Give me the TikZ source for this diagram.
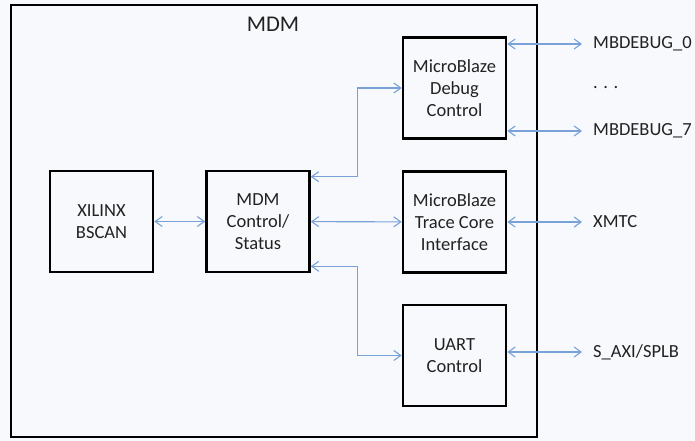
\documentclass[tikz,border=0pt]{standalone}
\usepackage{fontspec}
\setmainfont{Carlito}
\usetikzlibrary{arrows.meta,calc}
\definecolor{bg}{HTML}{F8F9FC}
\definecolor{conncol}{HTML}{79A2D8}
\definecolor{txt}{HTML}{222222}
\tikzset{
  blk/.style={draw=black, line width=2.6pt, minimum width=103pt, minimum height=101pt,
    align=center, inner sep=0pt, text=txt, font=\fontsize{18.5}{22}\selectfont},
  conn/.style={draw=conncol, line width=1.1pt,
    {Straight Barb[length=7pt,width=10pt]}-{Straight Barb[length=7pt,width=10pt]}},
  extlabel/.style={anchor=west, inner xsep=11pt, inner ysep=0pt, text=txt, font=\fontsize{18.5}{22}\selectfont},
}
\begin{document}
\begin{tikzpicture}[x=1pt,y=-1pt]
\fill[bg] (0,0) rectangle (695,441);
\useasboundingbox (0,0) rectangle (695,441);
\node[draw=black, line width=2pt, minimum width=526pt, minimum height=432pt, inner sep=0pt] (mdm) at (274,221) {};
\node[text=txt, font=\fontsize{22.5}{26}\selectfont] (title) at (273,24) {MDM};
\node[blk] (bscan) at (101.5,221.5) {XILINX\\BSCAN};
\node[blk] (ctrl) at (258,221.5) {MDM\\Control/\\Status};
\node[blk] (debug) at (454.5,88) {MicroBlaze\\Debug\\Control};
\node[blk] (tcore) at (454.5,222) {MicroBlaze\\Trace Core\\Interface};
\node[blk] (uart) at (454.5,355.5) {UART\\Control};
\node[extlabel] (mb0) at (582,44) {MBDEBUG\_0};
\node[extlabel] (dots) at (582,88) {. . .};
\node[extlabel] (mb7) at (582,131) {MBDEBUG\_7};
\node[extlabel] (xmtc) at (582,222) {XMTC};
\node[extlabel] (saxi) at (582,352) {S\_AXI/SPLB};
\draw[conn] (bscan) -- (ctrl);
\draw[conn] (ctrl) -- (tcore);
\draw[conn] ([yshift=-7pt]ctrl.north east) -- ++(47,0) |- (debug.west);
\draw[conn] ([yshift=7pt]ctrl.south east) -- ++(47,0) |- (uart.west);
\draw[conn] (debug.east |- mb0.west) -- (mb0.west);
\draw[conn] (debug.east |- mb7.west) -- (mb7.west);
\draw[conn] (tcore.east |- xmtc.west) -- (xmtc.west);
\draw[conn] (uart.east |- saxi.west) -- (saxi.west);
\end{tikzpicture}
\end{document}
